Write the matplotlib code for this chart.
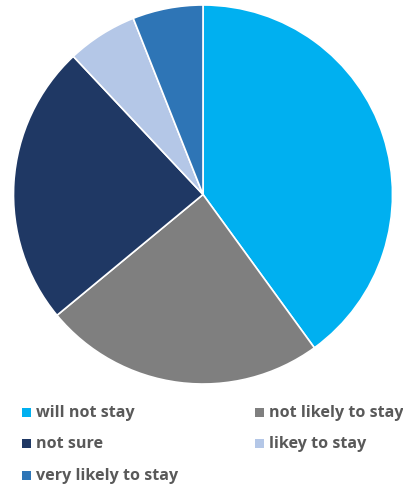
import matplotlib
matplotlib.use("Agg")
import matplotlib.pyplot as plt
from matplotlib.patches import Rectangle

labels = ["will not stay", "not likely to stay", "not sure", "likey to stay", "very likely to stay"]
values = [40, 24, 24, 6, 6]
colors = ["#00B0F0", "#7F7F7F", "#1F3864", "#B4C7E7", "#2E75B6"]

W, H = 403, 485
fig = plt.figure(figsize=(W / 100, H / 100), dpi=100)

# pie area: centre and radius in pixels
cx, cy, r = 203, 195.5, 189.5
ax = fig.add_axes([(cx - r) / W, (H - cy - r) / H, 2 * r / W, 2 * r / H])
ax.pie(values, colors=colors, startangle=90, counterclock=False, radius=1,
       wedgeprops=dict(edgecolor="white", linewidth=1.2))
ax.set_xlim(-1, 1)
ax.set_ylim(-1, 1)
ax.set_aspect("equal")
ax.axis("off")

# legend laid out row by row, two columns
col_x = [22, 255]
row_y = [413, 444, 476]
sq = 9
for i, (lab, col) in enumerate(zip(labels, colors)):
    cxp = col_x[i % 2]
    ryp = row_y[i // 2]
    fig.patches.append(Rectangle(((cxp) / W, (H - ryp - sq / 2) / H), sq / W, sq / H,
                                 transform=fig.transFigure, facecolor=col,
                                 edgecolor="none"))
    fig.text((cxp + sq + 5) / W, (H - ryp) / H, lab, ha="left", va="center",
             fontsize=11.6, fontweight="bold", color="#595959",
             family="Open Sans")

fig.savefig("out.png", dpi=100)
